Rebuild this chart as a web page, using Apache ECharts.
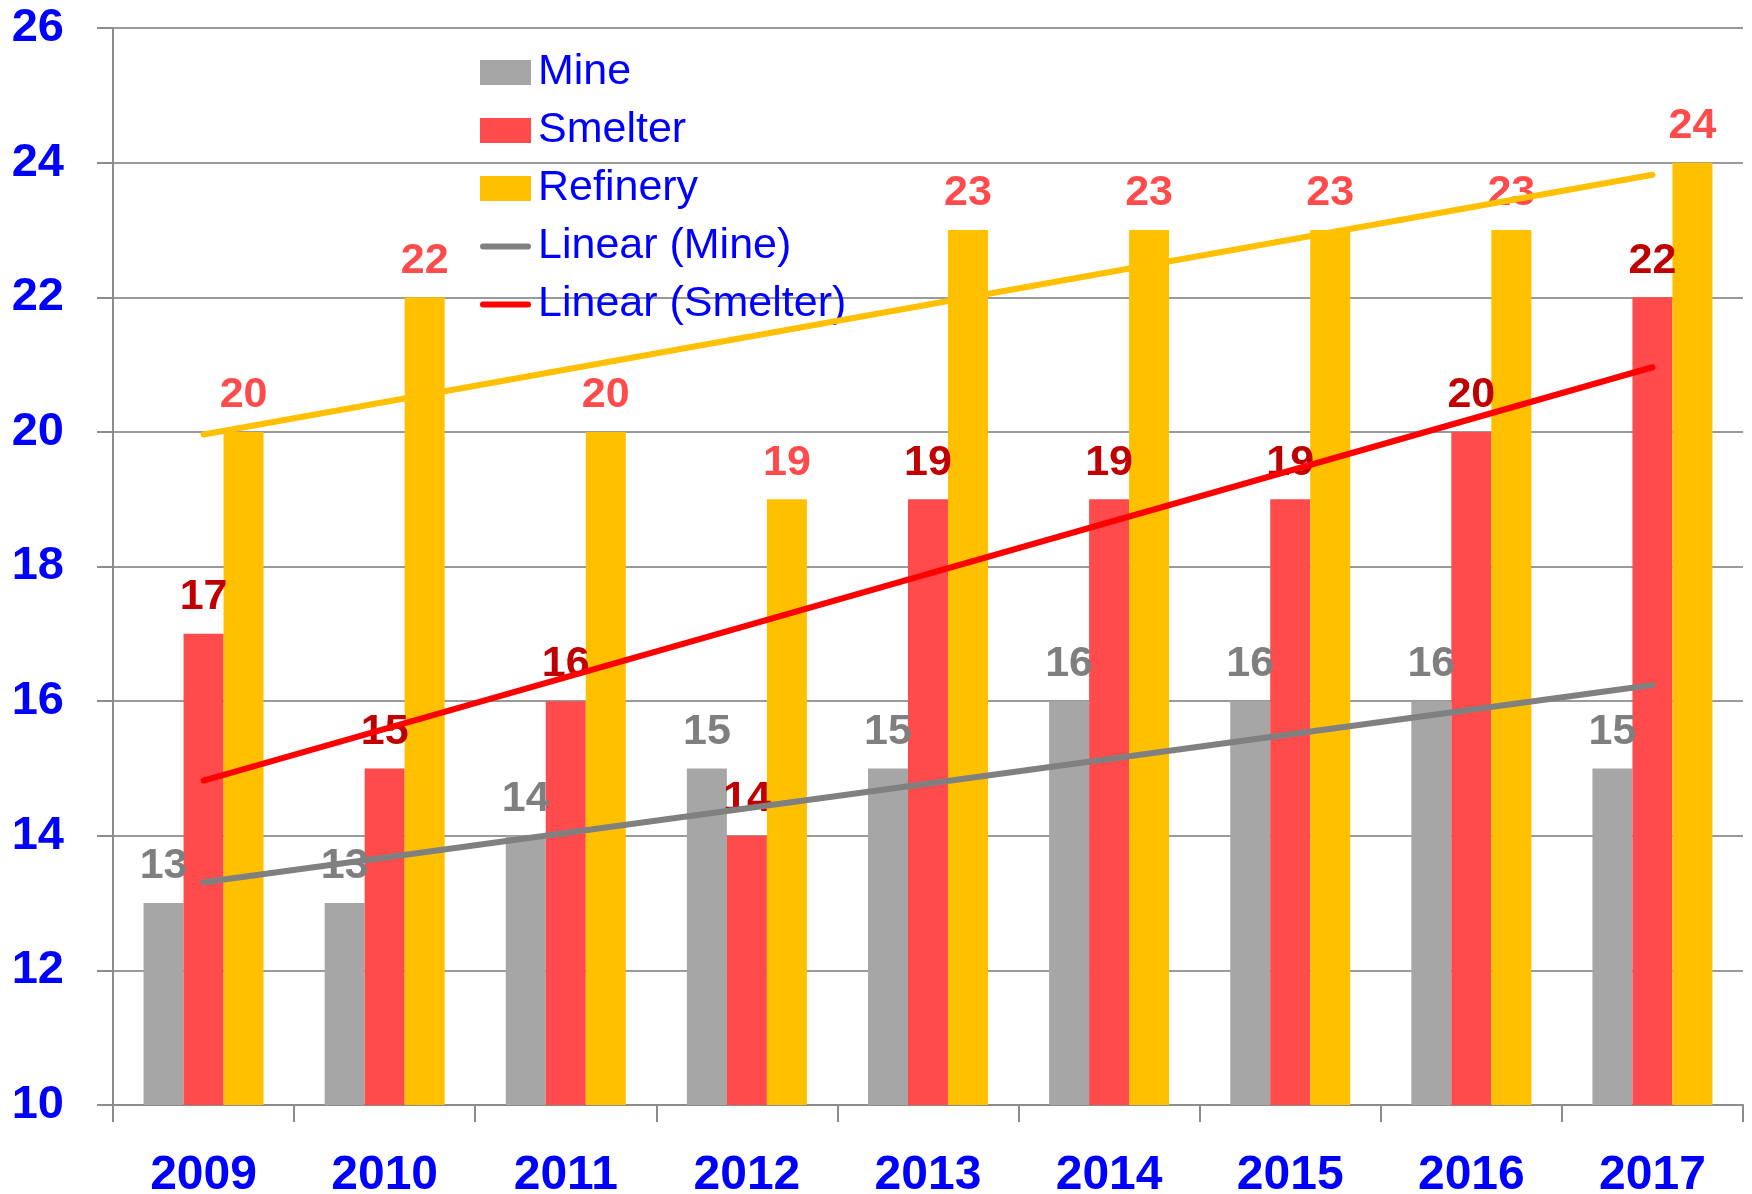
<!DOCTYPE html>
<html>
<head>
<meta charset="utf-8">
<script src="https://cdn.jsdelivr.net/npm/echarts@6/dist/echarts.min.js"></script>
<style>
  html, body { margin: 0; padding: 0; background: #fff; }
  #chart { width: 1752px; height: 1194px; }
</style>
</head>
<body>
<div id="chart"></div>
<script>
const years = ["2009", "2010", "2011", "2012", "2013", "2014", "2015", "2016", "2017"];
const mine = [13, 13, 14, 15, 15, 16, 16, 16, 15];
const smelter = [17, 15, 16, 14, 19, 19, 19, 20, 22];
const refinery = [20, 22, 20, 19, 23, 23, 23, 23, 24];
// trendline end points (first year, last year)
const mineTrend = [13.31, 16.24];
const smelterTrend = [14.82, 20.96];
const refineryTrend = [19.96, 23.82];
const yTicks = [10, 12, 14, 16, 18, 20, 22, 24, 26];

const font = "'Liberation Sans', Arial, sans-serif";
const lineIcon = "path://M3,0 L48,0 A3,3 0 0 1 48,6 L3,6 A3,3 0 0 1 3,0 Z";

const chart = echarts.init(document.getElementById("chart"));

const barLabel = (color) => ({
  show: true,
  position: "top",
  distance: 15,
  color: color,
  fontSize: 43,
  fontWeight: "bold",
  fontFamily: font,
});

const trend = (pts) => [[years[0], pts[0]], [years[years.length - 1], pts[1]]];

const option = {
  animation: false,
  grid: { left: 113, right: 9, top: 28, bottom: 89, outerBoundsMode: "none" },
  legend: {
    orient: "vertical",
    left: 475,
    top: 46,
    itemWidth: 51,
    itemHeight: 25,
    itemGap: 15,
    symbolKeepAspect: true,
    data: [
      { name: "Mine", icon: "rect" },
      { name: "Smelter", icon: "rect" },
      { name: "Refinery", icon: "rect" },
      { name: "Linear (Mine)", icon: lineIcon },
      { name: "Linear (Smelter)", icon: lineIcon },
    ],
    textStyle: { color: "#0000ff", fontSize: 43, fontFamily: font, padding: [0, 0, 0, 2] },
  },
  xAxis: {
    type: "category",
    data: years,
    axisLine: { lineStyle: { color: "#8c8c8c", width: 2 } },
    axisTick: { show: true, length: 17, lineStyle: { color: "#8c8c8c", width: 2 } },
    axisLabel: {
      color: "#0000ff",
      fontSize: 48,
      fontWeight: "bold",
      fontFamily: font,
      margin: 47,
    },
  },
  yAxis: {
    type: "value",
    min: yTicks[0],
    max: yTicks[yTicks.length - 1],
    interval: 2,
    axisLine: { show: true, lineStyle: { color: "#8c8c8c", width: 2 } },
    axisTick: { show: true, length: 16, lineStyle: { color: "#8c8c8c", width: 2 } },
    splitLine: { lineStyle: { color: "#9a9a9a", width: 2 } },
    axisLabel: {
      color: "#0000ff",
      fontSize: 47,
      fontWeight: "bold",
      fontFamily: font,
      margin: 49,
    },
  },
  series: [
    {
      name: "Mine",
      type: "bar",
      data: mine,
      barWidth: 40,
      barGap: "0%",
      itemStyle: { color: "#a6a6a6" },
      label: barLabel("#7f7f7f"),
    },
    {
      name: "Smelter",
      type: "bar",
      data: smelter,
      barWidth: 40,
      barGap: "0%",
      itemStyle: { color: "#ff4b4b" },
      label: barLabel("#c00000"),
    },
    {
      name: "Refinery",
      type: "bar",
      data: refinery,
      barWidth: 40,
      barGap: "0%",
      itemStyle: { color: "#ffc000" },
      label: barLabel("#ff4b4b"),
    },
    {
      name: "Linear (Mine)",
      type: "line",
      data: trend(mineTrend),
      symbol: "none",
      z: 5,
      lineStyle: { color: "#808080", width: 6, cap: "round" },
      itemStyle: { color: "#808080" },
    },
    {
      name: "Linear (Smelter)",
      type: "line",
      data: trend(smelterTrend),
      symbol: "none",
      z: 5,
      lineStyle: { color: "#ff0000", width: 6, cap: "round" },
      itemStyle: { color: "#ff0000" },
    },
    {
      name: "Linear (Refinery)",
      type: "line",
      data: trend(refineryTrend),
      symbol: "none",
      z: 5,
      lineStyle: { color: "#ffc000", width: 6, cap: "round" },
      itemStyle: { color: "#ffc000" },
    },
  ],
};

chart.setOption(option);
</script>
</body>
</html>
